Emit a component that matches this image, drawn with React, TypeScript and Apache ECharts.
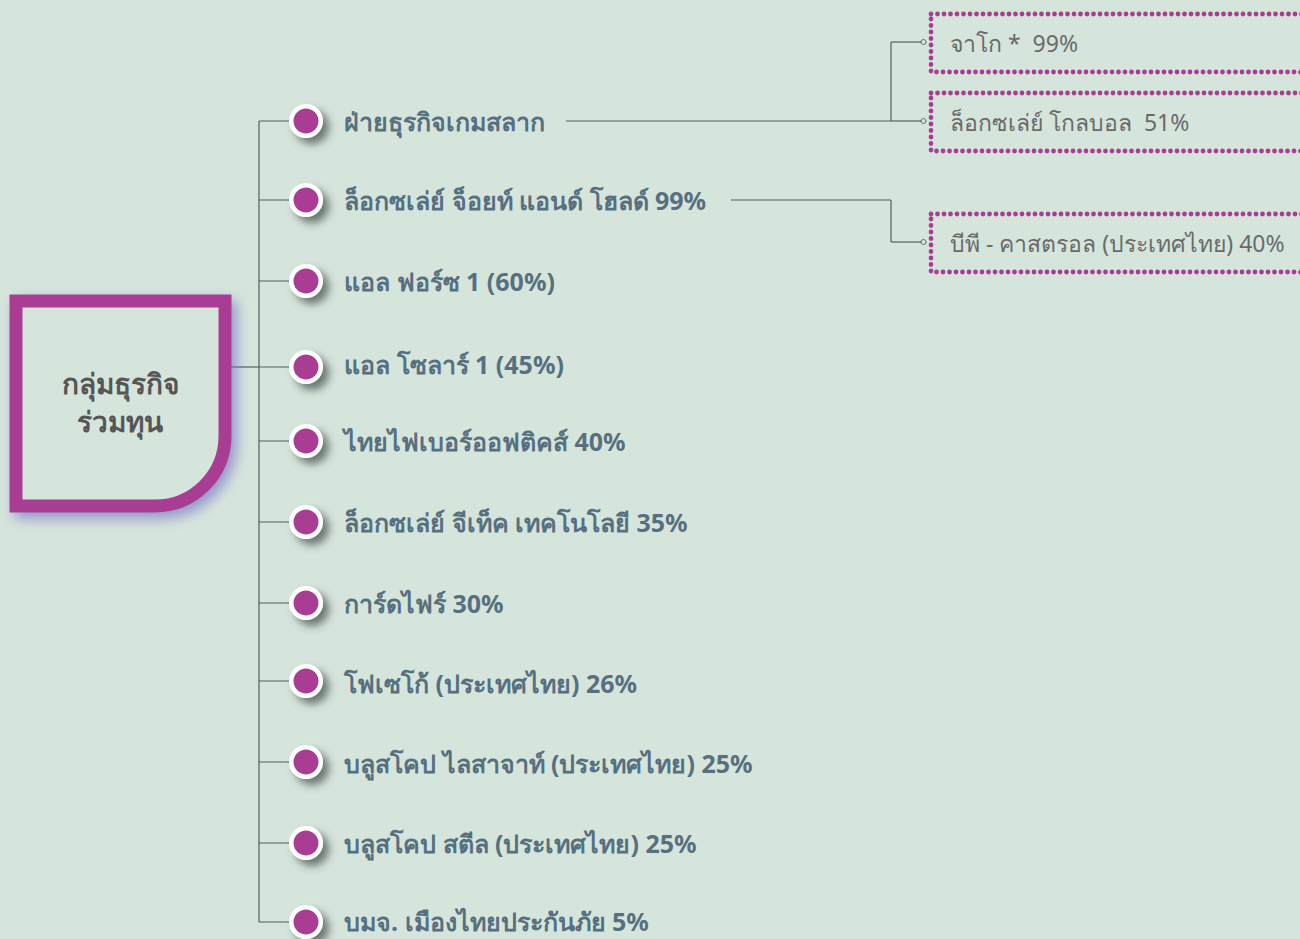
import React, { useEffect, useRef } from "react";
import * as echarts from "echarts";

const centerTitle = "กลุ่มธุรกิจ\nร่วมทุน";
const mainItems = [
  "ฝ่ายธุรกิจเกมสลาก",
  "ล็อกซเล่ย์ จ็อยท์ แอนด์ โฮลด์ 99%",
  "แอล ฟอร์ซ 1 (60%)",
  "แอล โซลาร์ 1 (45%)",
  "ไทยไฟเบอร์ออฟติคส์ 40%",
  "ล็อกซเล่ย์ จีเท็ค เทคโนโลยี 35%",
  "การ์ดไฟร์ 30%",
  "โฟเซโก้ (ประเทศไทย) 26%",
  "บลูสโคป ไลสาจาท์ (ประเทศไทย) 25%",
  "บลูสโคป สตีล (ประเทศไทย) 25%",
  "บมจ. เมืองไทยประกันภัย 5%",
];
const mainRowY = [121, 200, 281, 367, 441, 522, 603, 681, 762, 843, 922];
const mainTextY = [121, 200, 281, 364, 441, 522, 603, 683, 763, 843, 921];
const subItems = ["จาโก *  99%", "ล็อกซเล่ย์ โกลบอล  51%", "บีพี - คาสตรอล (ประเทศไทย) 40%"];
const subParent = [0, 0, 1];
const subRowY = [42, 121, 242];
const parentTextEndX = [566, 731];

const BG = "#d6e5dc";
const PURPLE = "#a93d94";
const LINE = "#555d5f";

echarts.graphic.registerShape(
  "leafBox",
  echarts.graphic.extendPath("M16 301 H225 V436 A70 70 0 0 1 155 506 H16 Z", {})
);

export default function App() {
  const ref = useRef<HTMLDivElement>(null);
  useEffect(() => {
    if (!ref.current) return;
    const chart = echarts.init(ref.current, null, { renderer: "svg" });
    const els: any[] = [];
    els.push({ type: "rect", shape: { x: 0, y: 0, width: 1300, height: 939 }, style: { fill: BG }, z: 0 });

    // trunk
    const trunkX = 259;
    els.push({ type: "line", shape: { x1: trunkX, y1: mainRowY[0], x2: trunkX, y2: mainRowY[mainRowY.length - 1] }, style: { stroke: LINE, lineWidth: 1.2 }, z: 1 });
    els.push({ type: "line", shape: { x1: 228, y1: 367, x2: trunkX, y2: 367 }, style: { stroke: LINE, lineWidth: 1.2 }, z: 1 });

    // center box
    els.push({
      type: "leafBox",
      x: 0, y: 0,
      style: { fill: BG, stroke: PURPLE, lineWidth: 13, shadowBlur: 14, shadowColor: "rgba(120,110,200,0.7)", shadowOffsetX: 5, shadowOffsetY: 6 },
      z: 2,
    });
    els.push({
      type: "text", x: 120, y: 402,
      style: { text: centerTitle, fill: "#565656", font: "bold 28px 'Noto Sans', sans-serif", align: "center", verticalAlign: "middle", lineHeight: 38 },
      z: 3,
    });

    mainItems.forEach((t, i) => {
      const y = mainRowY[i];
      els.push({ type: "line", shape: { x1: trunkX, y1: y, x2: 292, y2: y }, style: { stroke: LINE, lineWidth: 1.2 }, z: 1 });
      els.push({ type: "circle", shape: { cx: 306, cy: y, r: 17 }, style: { fill: "#ffffff", shadowBlur: 8, shadowColor: "rgba(60,70,70,0.7)", shadowOffsetX: 6, shadowOffsetY: 6 }, z: 2 });
      els.push({ type: "circle", shape: { cx: 306, cy: y, r: 12.5 }, style: { fill: PURPLE }, z: 3 });
      els.push({
        type: "text", x: 344, y: mainTextY[i],
        style: { text: t, fill: "#56707f", font: "bold 25px 'Noto Sans', sans-serif", align: "left", verticalAlign: "middle" },
        z: 3,
      });
    });

    // sub connectors
    const jx = 891;
    [0, 1].forEach((p) => {
      const py = mainRowY[p];
      const kids = subParent.map((pp, k) => (pp === p ? k : -1)).filter((k) => k >= 0);
      const ys = kids.map((k) => subRowY[k]);
      els.push({ type: "line", shape: { x1: parentTextEndX[p], y1: py, x2: jx, y2: py }, style: { stroke: LINE, lineWidth: 1.2 }, z: 1 });
      els.push({ type: "line", shape: { x1: jx, y1: Math.min(py, ...ys), x2: jx, y2: Math.max(py, ...ys) }, style: { stroke: LINE, lineWidth: 1.2 }, z: 1 });
    });
    subItems.forEach((t, k) => {
      const y = subRowY[k];
      els.push({ type: "line", shape: { x1: jx, y1: y, x2: 921, y2: y }, style: { stroke: LINE, lineWidth: 1.2 }, z: 1 });
      els.push({ type: "circle", shape: { cx: 923.5, cy: y, r: 2.5 }, style: { fill: BG, stroke: LINE, lineWidth: 1 }, z: 2 });
      els.push({
        type: "rect", shape: { x: 931, y: y - 28, width: 380, height: 58 },
        style: { fill: "none", stroke: PURPLE, lineWidth: 4.8, lineCap: "round", lineDash: [0, 6.5] },
        z: 2,
      });
      els.push({
        type: "text", x: 950, y: y + 1,
        style: { text: t, fill: "#6a6a6a", font: "23px 'Noto Sans', sans-serif", align: "left", verticalAlign: "middle" },
        z: 3,
      });
    });

    chart.setOption({ animation: false, backgroundColor: BG, graphic: { elements: els } });
    return () => chart.dispose();
  }, []);
  return <div ref={ref} style={{ width: 1300, height: 939, position: "absolute", left: 0, top: 0 }} />;
}
